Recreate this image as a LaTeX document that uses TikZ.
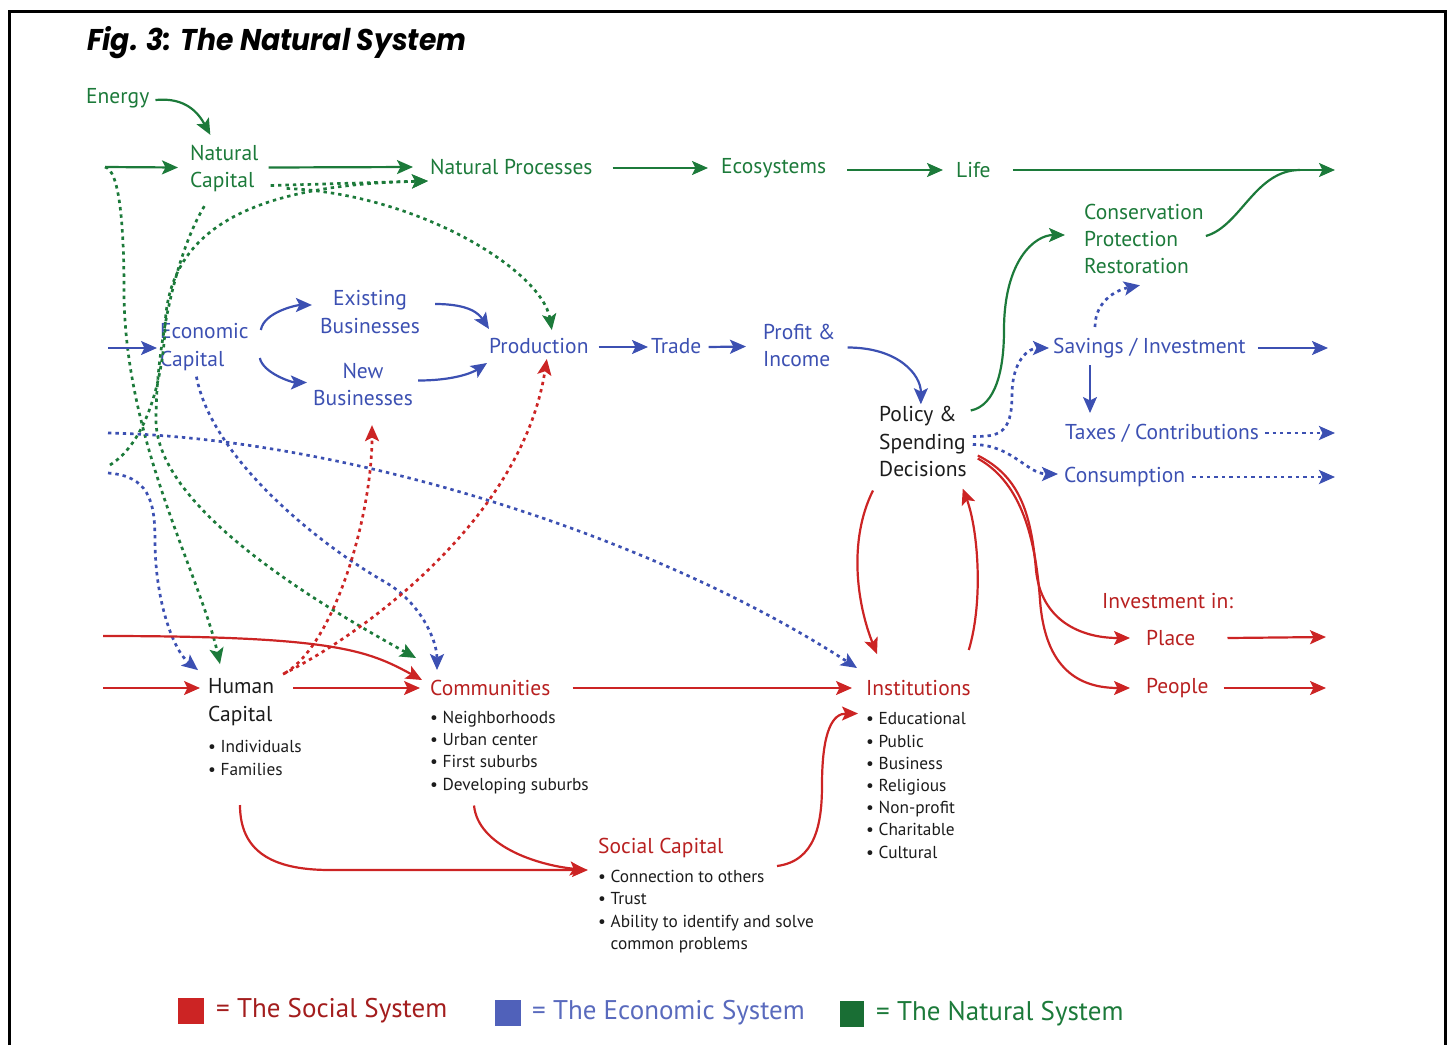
\documentclass[tikz,border=0pt]{standalone}
\usepackage{fontspec}
\setmainfont{PT Sans}
\newfontfamily\titlefont[FakeStretch=0.94]{Poppins}
\usetikzlibrary{arrows.meta}
\definecolor{natgreen}{RGB}{28,122,58}
\definecolor{ecoblue}{RGB}{60,80,178}
\definecolor{socred}{RGB}{204,36,36}
\definecolor{ink}{RGB}{28,28,28}
\newcommand\fsz[2]{\fontsize{#1}{#2}\selectfont}

\begin{document}
\begin{tikzpicture}[x=1pt,y=-1pt,
  lab/.style={inner sep=0pt, anchor=west, font=\fsz{21.5}{27.3}, align=left},
  nat/.style={lab, text=natgreen},
  eco/.style={lab, text=ecoblue},
  soc/.style={lab, text=socred!90!black},
  blk/.style={lab, text=ink},
  bul/.style={inner sep=0pt, anchor=west, font=\fsz{17.3}{22.2}, align=left, text=ink},
  arrowhd/.style={-{Stealth[length=16pt,width=14pt,inset=3.5pt]}},
  solidline/.style={arrowhd, line width=2.2pt},
  dotline/.style={arrowhd, line width=2.7pt, dash pattern=on 3.4pt off 4pt},
  gsolid/.style={solidline, draw=natgreen},
  gdot/.style={dotline, draw=natgreen},
  bsolid/.style={solidline, draw=ecoblue},
  bdot/.style={dotline, draw=ecoblue},
  rsolid/.style={solidline, draw=socred},
  rdot/.style={dotline, draw=socred},
  legsq/.style={minimum width=26pt, minimum height=26pt, inner sep=0pt, anchor=north west},
  legtxt/.style={inner sep=0pt, anchor=west, font=\fsz{27}{30}}
]
\useasboundingbox (0,0) rectangle (1448,1045);

% frame, open at the bottom
\draw[line width=3pt] (9,1045) -- (9,11) -- (1445,11) -- (1445,1045);

% title
\node[inner sep=0pt, anchor=west, font=\titlefont\bfseries\itshape\fsz{30}{34}] (title) at (87,43) {Fig. 3: The Natural System};

% ---------- natural system ----------
\node[nat] (energy) at (86,98) {Energy};
\node[nat] (natcap) at (190,168.5) {Natural\\Capital};
\node[nat] (natproc) at (430,167) {Natural Processes};
\node[nat] (ecosys) at (721,168) {Ecosystems};
\node[nat] (life) at (956,170) {Life};
\node[nat] (cons) at (1084,239) {Conservation\\Protection\\Restoration};

% ---------- economic system ----------
\node[eco] (econ) at (160,347) {Economic\\Capital};
\node[eco, anchor=center, align=center] (exist) at (370,312) {Existing\\Businesses};
\node[eco, anchor=center, align=center] (new) at (363,384.5) {New\\Businesses};
\node[eco] (prod) at (489,346) {Production};
\node[eco] (trade) at (651,346) {Trade};
\node[eco] (profit) at (763,345.5) {Profit \&\\Income};
\node[blk] (policy) at (879,441.5) {Policy \&\\Spending\\Decisions};
\node[eco] (sav) at (1053,348) {Savings / Investment};
\node[eco] (tax) at (1065,433) {Taxes / Contributions};
\node[eco] (consum) at (1064,477) {Consumption};

% ---------- social system ----------
\node[soc] (invin) at (1102,601) {Investment in:};
\node[soc] (place) at (1146,638) {Place};
\node[soc] (people) at (1146,688) {People};
\node[blk, font=\fsz{21.5}{28}] (human) at (208,702) {Human\\Capital};
\node[bul] (humb) at (208,758) {• Individuals\\• Families};
\node[soc] (comm) at (430,688) {Communities};
\node[bul] (commb) at (430,752.5) {• Neighborhoods\\• Urban center\\• First suburbs\\• Developing suburbs};
\node[soc] (inst) at (866,688) {Institutions};
\node[bul] (instb) at (866,785.5) {• Educational\\• Public\\• Business\\• Religious\\• Non-profit\\• Charitable\\• Cultural};
\node[soc] (socap) at (598,848) {Social Capital};
\node[bul] (socb) at (598,911.5) {• Connection to others\\• Trust\\• Ability to identify and solve\\\phantom{• }common problems};

% free ends at the edges
\coordinate (gin1) at (105,167);
\coordinate (gin2) at (110,465);
\coordinate (gout) at (1335,170);
\coordinate (bin1) at (108,348);
\coordinate (bin2) at (108,433);
\coordinate (bin3) at (108,473);
\coordinate (bout1) at (1328,348);
\coordinate (bout2) at (1335,433);
\coordinate (bout3) at (1335,477);
\coordinate (rin1) at (103,636);
\coordinate (rin2) at (103,688);
\coordinate (rout1) at (1326,637);
\coordinate (rout2) at (1326,688);

% ---------- green flows ----------
\draw[gsolid] ([shift={(6,2)}]energy.east) .. controls +(30,-3) and +(-12,-22) .. ([shift={(-14,-10)}]natcap.north);
\draw[gsolid] (gin1) -- ([shift={(-12,-1)}]natcap.west);
\draw[gsolid] ([shift={(10,-1)}]natcap.east) -- ([shift={(-17,0)}]natproc.west);
\draw[gsolid] ([shift={(20,1)}]natproc.east) -- ([shift={(-13,0)}]ecosys.west);
\draw[gsolid] ([shift={(21,2)}]ecosys.east) -- ([shift={(-13,0)}]life.west);
\draw[gsolid] ([shift={(22,0)}]life.east) -- (gout);
\draw[natgreen, line width=2.2pt] ([shift={(2,-3)}]cons.east) .. controls +(35,-10) and +(-45,0) .. ([shift={(-35,0)}]gout);
\draw[gsolid] ([shift={(4,-31)}]policy.east) .. controls +(25,-5) and +(0,40) .. (1004,330) .. controls +(0,-70) and +(-30,0) .. ([shift={(-19,-4)}]cons.west);

\draw[gdot] ([shift={(12,17)}]natcap.east) -- ([shift={(-2,14)}]natproc.west);
\draw[gdot] ([shift={(28,20)}]natcap.east) .. controls +(130,5) and +(-10,-60) .. ([shift={(13,-8)}]prod.north);
\draw[gdot] (gin2) .. controls +(40,-25) and +(-2,40) .. (165,330) .. controls +(1,-100) and +(-178,4) .. ([shift={(-2,14)}]natproc.west);
\draw[gdot] (gin1) .. controls +(15,3) and +(0,-60) .. (124,290) .. controls +(0,150) and +(-20,-90) .. ([shift={(12,-14)}]human.north west);
\draw[gdot] ([shift={(-20,14)}]natcap.south) .. controls +(-30,50) and +(0,-70) .. (156,420) .. controls +(0,90) and +(-90,-50) .. ([shift={(-14,-30)}]comm.west);

% ---------- blue flows ----------
\draw[bsolid] (bin1) -- ([shift={(-3,1)}]econ.west);
\draw[bsolid] ([shift={(12,-17)}]econ.east) .. controls +(3,-18) and +(-15,0) .. ([shift={(-8,-7)}]exist.west);
\draw[bsolid] ([shift={(11,11)}]econ.east) .. controls +(3,15) and +(-15,0) .. ([shift={(-6,-2)}]new.west);
\draw[bsolid] ([shift={(15,-8)}]exist.east) .. controls +(35,0) and +(-10,-15) .. ([shift={(0,-17)}]prod.west);
\draw[bsolid] ([shift={(5,-4)}]new.east) .. controls +(35,0) and +(-15,10) .. ([shift={(-2,17)}]prod.west);
\draw[bsolid] ([shift={(10,1)}]prod.east) -- ([shift={(-3,1)}]trade.west);
\draw[bsolid] ([shift={(7,1)}]trade.east) -- ([shift={(-17,1)}]profit.west);
\draw[bsolid] ([shift={(12,2)}]profit.east) .. controls +(50,0) and +(0,-30) .. ([shift={(-2,-2)}]policy.north);

\draw[bdot] ([shift={(-8,6)}]econ.south) .. controls +(15,80) and +(-70,-40) .. (385,582) .. controls +(35,20) and +(0,-30) .. ([shift={(7,-10)}]comm.north west);
\draw[bdot] (bin2) .. controls +(240,5) and +(-200,-130) .. ([shift={(-9,-20)}]inst.west);
\draw[bdot] (bin3) .. controls +(40,3) and +(0,-40) .. (155,540) .. controls +(0,60) and +(-25,-20) .. ([shift={(-10,-8)}]human.north west);

\draw[bdot] ([shift={(6,-5)}]policy.east) .. controls +(25,0) and +(0,40) .. (1012,395) .. controls +(0,-35) and +(-20,0) .. ([shift={(-4,0)}]sav.west);
\draw[bdot] ([shift={(42,-21)}]sav.west) .. controls +(0,-25) and +(-25,5) .. ([shift={(-4,11)}]cons.south);
\draw[bsolid] ([shift={(12,0)}]sav.east) -- (bout1);
\draw[bsolid] ([shift={(37,17)}]sav.west) -- ([shift={(25,-20)}]tax.west);
\draw[bdot] ([shift={(6,0)}]tax.east) -- (bout2);
\draw[bdot] ([shift={(6,3)}]policy.east) .. controls +(25,0) and +(-15,-10) .. (1027,466) .. controls +(10,7) and +(-15,0) .. ([shift={(-6,-3)}]consum.west);
\draw[bdot] ([shift={(7,0)}]consum.east) -- (bout3);

% ---------- red flows ----------
\draw[rsolid] (rin1) .. controls +(230,0) and +(-55,-30) .. ([shift={(-8,-8)}]comm.west);
\draw[rsolid] (rin2) -- ([shift={(-8,-14)}]human.west);
\draw[rsolid] ([shift={(85,-14)}]human.west) -- ([shift={(-10,0)}]comm.west);
\draw[rsolid] ([shift={(22,0)}]comm.east) -- ([shift={(-14,0)}]inst.west);

\draw[rdot] ([shift={(75,-4)}]human.north west) .. controls +(80,-40) and +(-25,160) .. ([shift={(8,5)}]prod.south);
\draw[rdot] ([shift={(77,-5)}]human.north west) .. controls +(50,-30) and +(0,90) .. ([shift={(9,19)}]new.south);

\draw[rsolid] ([shift={(-6,49)}]policy.west) .. controls +(-25,50) and +(-20,-50) .. ([shift={(11,-26)}]inst.north west);
\draw[rsolid] ([shift={(-2,-38)}]inst.east) .. controls +(15,-50) and +(15,40) .. ([shift={(-4,47)}]policy.east);
\draw[rsolid] ([shift={(11,14)}]policy.east) .. controls +(40,20) and +(-5,-60) .. (1036,570) .. controls +(5,50) and +(-50,0) .. ([shift={(-16,0)}]place.west);
\draw[rsolid] ([shift={(11,17)}]policy.east) .. controls +(40,22) and +(-5,-70) .. (1040,600) .. controls +(5,70) and +(-50,0) .. ([shift={(-16,0)}]people.west);
\draw[rsolid] ([shift={(32,0)}]place.east) -- (rout1);
\draw[rsolid] ([shift={(15,0)}]people.east) -- (rout2);

\draw[rsolid] ([shift={(32,47)}]humb.west) .. controls +(0,45) and +(-60,0) .. (330,870) -- ([shift={(-10,22)}]socap.west);
\draw[rsolid] ([shift={(44,53)}]commb.west) .. controls +(4,40) and +(-50,-5) .. ([shift={(-12,22)}]socap.west);
\draw[rsolid] ([shift={(179,18)}]socap.west) .. controls +(38,-5) and +(0,40) .. (822,785) .. controls +(0,-55) and +(-25,0) .. ([shift={(-8,-72)}]instb.west);

% ---------- legend ----------
\node[legsq, fill=socred] (sqsoc) at (178,998) {};
\node[legtxt, text=socred!80!black] (lgsoc) at (216,1011) {= The Social System};
\node[legsq, fill=ecoblue!90!white] (sqeco) at (495,1000) {};
\node[legtxt, text=ecoblue!85!white] (lgeco) at (532,1013) {= The Economic System};
\node[legsq, minimum width=24pt, fill=natgreen!90!black] (sqnat) at (840,1001) {};
\node[legtxt, text=natgreen] (lgnat) at (876,1014) {= The Natural System};
\end{tikzpicture}
\end{document}
